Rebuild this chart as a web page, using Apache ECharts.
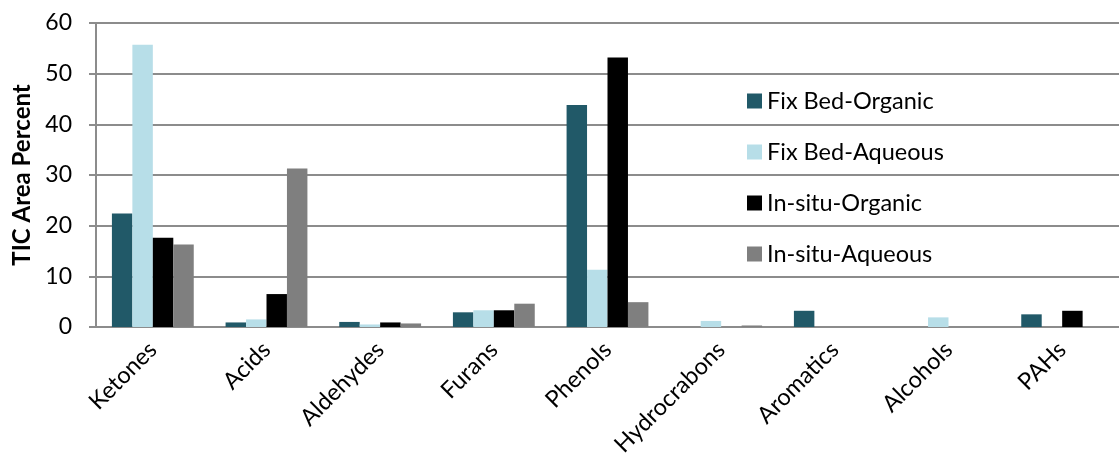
<!DOCTYPE html>
<html>
<head>
<meta charset="utf-8">
<script src="https://cdn.jsdelivr.net/npm/echarts@6/dist/echarts.min.js"></script>
<style>
  html, body { margin: 0; padding: 0; background: #fff; }
  #chart { width: 1119px; height: 470px; }
</style>
</head>
<body>
<div id="chart"></div>
<script>
// Compound classes found in the bio-oil fractions
const categories = ['Ketones', 'Acids', 'Aldehydes', 'Furans', 'Phenols', 'Hydrocrabons', 'Aromatics', 'Alcohols', 'PAHs'];

// TIC area percent per class
const fixBedOrganic  = [22.4, 0.9, 1.0, 2.9, 43.8, 0,   3.2, 0,   2.5];
const fixBedAqueous  = [55.7, 1.5, 0.5, 3.3, 11.3, 1.2, 0,   1.9, 0];
const inSituOrganic  = [17.6, 6.5, 0.9, 3.3, 53.2, 0,   0,   0,   3.2];
const inSituAqueous  = [16.3, 31.3, 0.7, 4.6, 4.9, 0.3, 0,   0,   0];

const seriesNames = ['Fix Bed-Organic', 'Fix Bed-Aqueous', 'In-situ-Organic', 'In-situ-Aqueous'];
const seriesColors = ['#215968', '#B7DEE8', '#000000', '#7F7F7F'];
const seriesValues = [fixBedOrganic, fixBedAqueous, inSituOrganic, inSituAqueous];

const yTicks = { min: 0, max: 60, interval: 10 };

const FONT = 'Lato';
const gridColor = '#8c8c8c';

const chart = echarts.init(document.getElementById('chart'), null, { renderer: 'canvas' });

chart.setOption({
  backgroundColor: '#ffffff',
  animation: false,
  textStyle: { fontFamily: FONT, color: '#000' },
  grid: { left: 96, top: 23, width: 1033, height: 304, containLabel: false },
  legend: {
    orient: 'vertical',
    left: 742,
    top: 84,
    itemWidth: 15,
    itemHeight: 15,
    itemGap: 27,
    icon: 'rect',
    textStyle: { fontFamily: FONT, fontSize: 23.5, color: '#000', lineHeight: 22 },
    data: seriesNames
  },
  xAxis: {
    type: 'category',
    data: categories,
    axisLine: { lineStyle: { color: gridColor, width: 2 } },
    axisTick: { show: false },
    axisLabel: {
      interval: 0,
      rotate: 45,
      margin: 19,
      fontFamily: FONT,
      fontSize: 23.5,
      color: '#000'
    }
  },
  yAxis: {
    type: 'value',
    min: yTicks.min,
    max: yTicks.max,
    interval: yTicks.interval,
    name: 'TIC Area Percent',
    nameLocation: 'middle',
    nameGap: 60,
    nameTextStyle: { fontFamily: FONT, fontSize: 24, fontWeight: 'bold', color: '#000' },
    axisLine: { show: true, lineStyle: { color: gridColor, width: 2 } },
    axisTick: { show: true, length: 7, lineStyle: { color: gridColor, width: 2 } },
    splitLine: { show: true, lineStyle: { color: gridColor, width: 2 } },
    axisLabel: { margin: 24, fontFamily: FONT, fontSize: 23, color: '#000' }
  },
  series: seriesNames.map((name, i) => ({
    name,
    type: 'bar',
    data: seriesValues[i],
    barGap: '0%',
    barCategoryGap: '28%',
    itemStyle: { color: seriesColors[i] }
  }))
});
</script>
</body>
</html>
